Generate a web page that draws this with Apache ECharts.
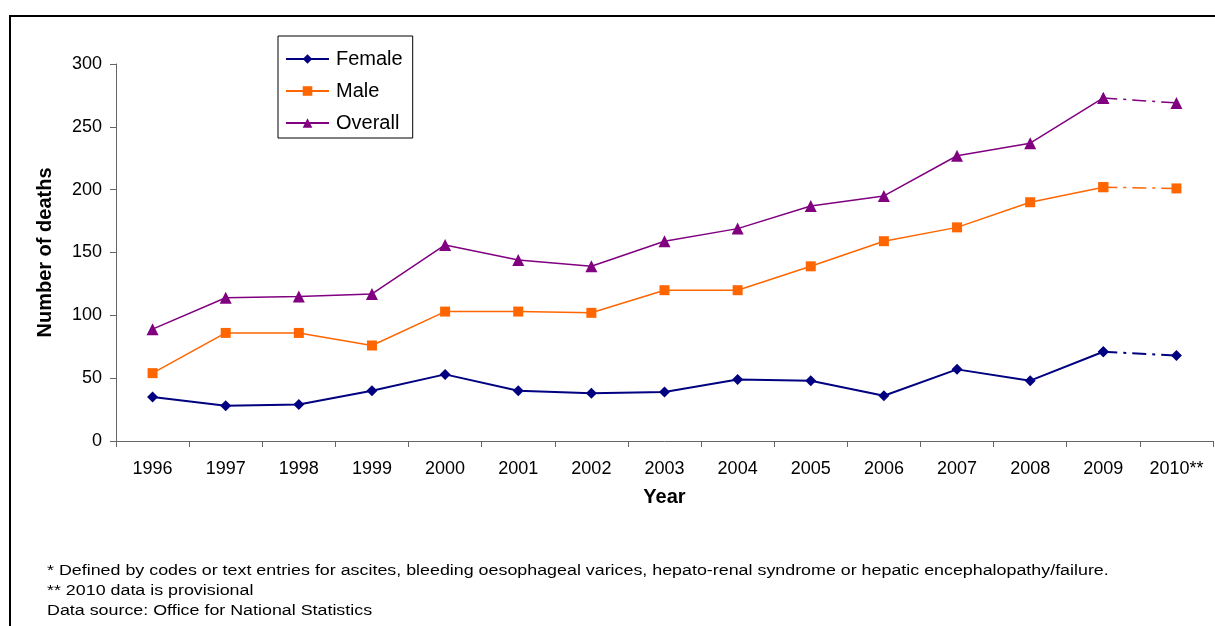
<!DOCTYPE html>
<html>
<head>
<meta charset="utf-8">
<script src="https://cdn.jsdelivr.net/npm/echarts@6/dist/echarts.min.js"></script>
<style>
html,body{margin:0;padding:0;background:#fff;}
#chart{width:1215px;height:626px;}
</style>
</head>
<body>
<div id="chart"></div>
<script>
const years = ['1996','1997','1998','1999','2000','2001','2002','2003','2004','2005','2006','2007','2008','2009','2010**'];
const female = [35,28,29,40,53,40,38,39,49,48,36,57,48,71,68];
const male = [54,86,86,76,103,103,102,120,120,139,159,170,190,202,201];
const overall = [89,114,115,117,156,144,139,159,169,187,195,227,237,273,269];
const yTicks = [0,50,100,150,200,250,300];
const footnotes = [
  '* Defined by codes or text entries for ascites, bleeding oesophageal varices, hepato-renal syndrome or hepatic encephalopathy/failure.',
  '** 2010 data is provisional',
  'Data source: Office for National Statistics'
];
const provisionalFrom = 13; // index of last final year (2009); 2010 provisional

const FONT = '"Liberation Sans", Arial, sans-serif';
const solidPart = arr => arr.map((v,i) => i <= provisionalFrom ? v : null);
const dashPart = arr => arr.map((v,i) => i >= provisionalFrom ? v : null);

const defs = [
  {name:'Female', data:female, color:'#000080', symbol:'diamond', size:11, width:2},
  {name:'Male', data:male, color:'#FF6600', symbol:'rect', size:10, width:1.5},
  {name:'Overall', data:overall, color:'#800080', symbol:'triangle', size:12, width:1.5}
];
const series = [];
defs.forEach(d => {
  series.push({
    name:d.name, type:'line', data:solidPart(d.data), symbol:d.symbol, symbolSize:d.size,
    showAllSymbol:true, connectNulls:false,
    itemStyle:{color:d.color}, lineStyle:{color:d.color, width:d.width}, z:3
  });
  series.push({
    name:d.name+' (provisional)', type:'line', data:dashPart(d.data), symbol:d.symbol, symbolSize:d.size,
    showAllSymbol:true, connectNulls:false,
    itemStyle:{color:d.color}, lineStyle:{color:d.color, width:d.width, type:[14,6,3,6]}, z:2
  });
});

const chart = echarts.init(document.getElementById('chart'), null, {renderer:'canvas'});
chart.setOption({
  animation:false,
  backgroundColor:'#fff',
  textStyle:{fontFamily:FONT},
  grid:{left:116, right:2, top:64, bottom:185, containLabel:false},
  legend:{
    data:['Female','Male','Overall'], orient:'vertical', left:278, top:36,
    borderColor:'#000', borderWidth:1, padding:[13,10,5,7], itemGap:12,
    itemWidth:43, itemHeight:12, backgroundColor:'#fff',
    textStyle:{fontFamily:FONT, fontSize:20, color:'#000', padding:[0,0,0,2]}
  },
  xAxis:{
    type:'category', data:years, boundaryGap:true,
    name:'Year', nameLocation:'middle', nameGap:46,
    nameTextStyle:{fontFamily:FONT, fontSize:20, fontWeight:'bold', color:'#000'},
    axisLine:{lineStyle:{color:'#666', width:1}},
    axisTick:{show:true, alignWithLabel:false, length:6, lineStyle:{color:'#666'}},
    axisLabel:{fontFamily:FONT, fontSize:18, color:'#000', margin:19, interval:0},
    splitLine:{show:false}
  },
  yAxis:{
    type:'value', min:yTicks[0], max:yTicks[yTicks.length-1], interval:yTicks[1]-yTicks[0],
    name:'Number of deaths', nameLocation:'middle', nameGap:61, nameRotate:90,
    nameTextStyle:{fontFamily:FONT, fontSize:20, fontWeight:'bold', color:'#000'},
    axisLine:{show:true, lineStyle:{color:'#666', width:1}},
    axisTick:{show:true, length:6, lineStyle:{color:'#666'}},
    axisLabel:{fontFamily:FONT, fontSize:18, color:'#000', margin:14},
    splitLine:{show:false}
  },
  graphic:[
    {type:'rect', shape:{x:10, y:16, width:1230, height:700}, style:{fill:'none', stroke:'#000', lineWidth:2}, silent:true, z:-1},
    ...footnotes.map((t,i) => ({
      type:'text', x:47, y:564 + i*20, scaleX:1.275, scaleY:1,
      style:{text:t, fontFamily:FONT, fontSize:14, fill:'#000'}
    }))
  ],
  series:series
});
</script>
</body>
</html>
